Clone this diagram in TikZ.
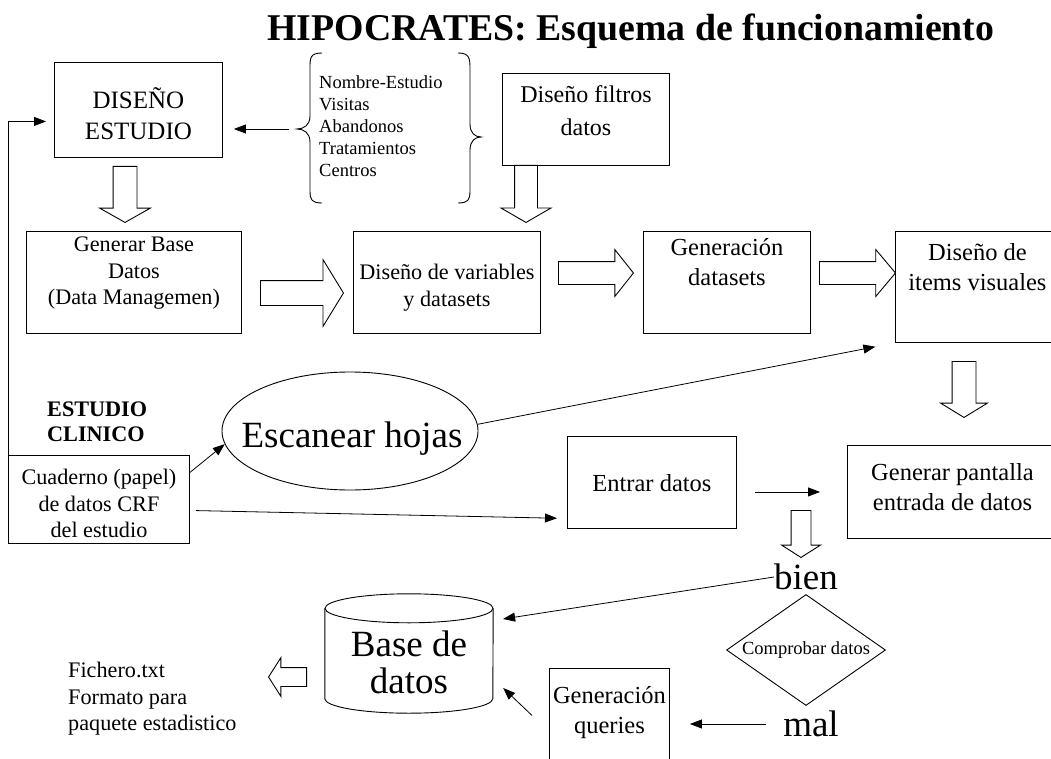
\documentclass[tikz,border=0pt]{standalone}
\usepackage{fontspec}
\setmainfont{Liberation Serif}
\usetikzlibrary{positioning,shapes.geometric,shapes.arrows,arrows.meta}

\tikzset{
    caja/.style={draw, line width=0.9pt, anchor=north west, inner sep=0pt},
    txt/.style={font=\fontsize{22.2}{26.5}\selectfont, align=center, inner sep=0pt},
    txtgr/.style={font=\fontsize{24.5}{30}\selectfont, align=center, inner sep=0pt},
    chico/.style={font=\fontsize{18.5}{22}\selectfont, align=left, inner sep=0pt},
    grande/.style={font=\fontsize{37}{37}\selectfont, align=center, inner sep=0pt},
    linea/.style={line width=0.9pt},
    flecha/.style={line width=0.8pt, -{Triangle[length=12pt,width=9pt]}},
    bloque/.style n args={3}{single arrow, draw, fill=white, line width=0.9pt,
        inner sep=#1, single arrow head extend=#2, single arrow tip angle=#3,
        minimum width=0pt, anchor=tail}
}

\begin{document}
\begin{tikzpicture}[x=1pt, y=-1pt]
    \useasboundingbox[fill=white] (0,0) rectangle (1051,759);

    \node[font=\bfseries\fontsize{37.8}{44}\selectfont, inner sep=0pt] (titulo) at (631,31)
        {HIPOCRATES: Esquema de funcionamiento};

    % cajas (esquina superior izquierda, ancho, alto)
    \node[caja, minimum width=168pt, minimum height=95pt]  (dis)   at (54,62)   {};
    \node[caja, minimum width=167pt, minimum height=92pt]  (filt)  at (502,73)  {};
    \node[caja, minimum width=215pt, minimum height=102pt] (gbd)   at (26,231)  {};
    \node[caja, minimum width=187pt, minimum height=102pt] (var)   at (353,231) {};
    \node[caja, minimum width=167pt, minimum height=102pt] (gen)   at (643,231) {};
    \node[caja, minimum width=164pt, minimum height=111pt] (items) at (895,231) {};
    \node[caja, minimum width=181pt, minimum height=88pt]  (cuad)  at (8,455)   {};
    \node[caja, minimum width=169pt, minimum height=92pt]  (entrar) at (567,436) {};
    \node[caja, minimum width=210pt, minimum height=93pt]  (pant)  at (847,445) {};
    \node[caja, minimum width=120pt, minimum height=110pt] (quer)  at (549,668) {};

    \node[txtgr, below=25pt of dis.north, font=\fontsize{25}{31}\selectfont] (dis-t) {DISEÑO\\ESTUDIO};
    \node[txtgr, below=12pt of filt.north, font=\fontsize{24}{33}\selectfont] (filt-t) {Diseño filtros\\datos};
    \node[txt, below=6pt of gbd.north]     (gbd-t)  {Generar Base\\Datos\\(Data Managemen)};
    \node[txt, below=33pt of var.north]    (var-t)  {Diseño de variables\\y datasets};
    \node[txtgr, below=7pt of gen.north]   (gen-t)  {Generación\\datasets};
    \node[txtgr, below=12pt of items.north] (items-t) {Diseño de\\items visuales};
    \node[txt, below=14pt of cuad.north]   (cuad-t) {Cuaderno (papel)\\de datos CRF\\del estudio};
    \node[txtgr, below=38pt of entrar.north] (entrar-t) {Entrar datos};
    \node[txtgr, below=18pt of pant.north] (pant-t) {Generar pantalla\\entrada de datos};
    \node[txtgr, below=18pt of quer.north] (quer-t) {Generación\\queries};

    % lista entre llaves
    \node[chico, anchor=north west] (lista) at (319,75)
        {Nombre-Estudio\\Visitas\\Abandonos\\Tratamientos\\Centros};
    \draw[linea] (322,53) .. controls (310,53) and (310,58) .. (310,68) -- (310,116)
        .. controls (310,125) and (304,129) .. (297,129)
        .. controls (304,129) and (310,133) .. (310,142) -- (310,191)
        .. controls (310,200) and (312,203) .. (322,203);
    \draw[linea] (458,53) .. controls (469,53) and (470,58) .. (470,68) -- (470,124)
        .. controls (470,133) and (475,137) .. (481,137)
        .. controls (475,137) and (470,141) .. (470,150) -- (470,191)
        .. controls (470,200) and (468,203) .. (458,203);
    \coordinate (llave) at (289,129);

    \node[font=\bfseries\fontsize{22.2}{25}\selectfont, align=left, inner sep=0pt,
        anchor=north west] (clin) at (47,402) {ESTUDIO\\CLINICO};

    \node[draw, linea, ellipse, minimum width=256pt, minimum height=118pt, inner sep=0pt] (esc) at (350,431) {};
    \node[grande] (esc-t) at (352,439) {Escanear hojas};

    \node[draw, linea, diamond, minimum width=159pt, minimum height=111pt, inner sep=0pt] (comp) at (806,650) {};
    \node[chico] (comp-t) at (806,650) {Comprobar datos};
    \node[grande] (bien) at (806,577) {bien};
    \node[grande] (mal) at (811,724) {mal};

    % base de datos
    \node[inner sep=0pt, minimum width=168pt, minimum height=119pt] (bd) at (409,653.5) {};
    \draw[linea] (bd.north) ++(0,14.5) ellipse [x radius=84pt, y radius=14.5pt];
    \draw[linea] ([yshift=-14.5pt]bd.north west) -- ([yshift=14.5pt]bd.south west)
        arc[start angle=180, end angle=360, x radius=84pt, y radius=14.5pt]
        -- ([yshift=-14.5pt]bd.north east);
    \node[grande] (bd-t) at (409,662) {Base de\\datos};

    \node[txt, align=left, anchor=north west] (fich) at (68,662)
        {Fichero.txt\\Formato para\\paquete estadistico};

    % flechas huecas
    \node[bloque={11.5pt}{13.5pt}{121}, minimum height=56pt, rotate=-90] (fa) at (125,166) {};
    \node[bloque={11pt}{13.5pt}{120}, minimum height=57pt, rotate=-90] (fb) at (526,165) {};
    \node[bloque={12pt}{21pt}{117}, minimum height=83pt] (fc) at (260,293) {};
    \node[bloque={11pt}{12pt}{103}, minimum height=75pt] (fd) at (558,273) {};
    \node[bloque={11pt}{12pt}{100}, minimum height=76pt] (fe) at (819,273) {};
    \node[bloque={11.5pt}{11.5pt}{117}, minimum height=56pt, rotate=-90] (ff) at (964,361) {};
    \node[bloque={9.5pt}{9.5pt}{115}, minimum height=47pt, rotate=-90] (fg) at (801,510) {};
    \node[bloque={9pt}{10pt}{115}, minimum height=38pt, rotate=180] (fh) at (307,677) {};

    % flechas finas
    \draw[flecha, shorten >=11pt] (llave) -- (llave -| dis.east);
    \draw[flecha, shorten >=8pt] (cuad.north west) |- ([yshift=-11.5pt]dis.west);
    \draw[flecha] ([yshift=27pt]cuad.east) -- (esc.186);
    \draw[flecha, shorten <=6pt, shorten >=10pt] ([yshift=-11pt]cuad.east) -- ([yshift=-36pt]entrar.west);
    \draw[flecha, shorten >=20pt] (esc.3) -- (items.south west);
    \draw[flecha, shorten <=18pt, shorten >=27pt] (entrar.east |- pant.west) -- (pant.west);
    \draw[flecha, shorten >=10pt] (bien.west) -- ([yshift=33pt]bd.east);
    \draw[flecha, shorten <=17pt, shorten >=20pt] (mal.west) -- (mal.west -| quer.east);
    \draw[flecha] ([shift={(-17pt,8pt)}]quer.west) -- ([shift={(10pt,-34.5pt)}]bd.east);
\end{tikzpicture}
\end{document}
